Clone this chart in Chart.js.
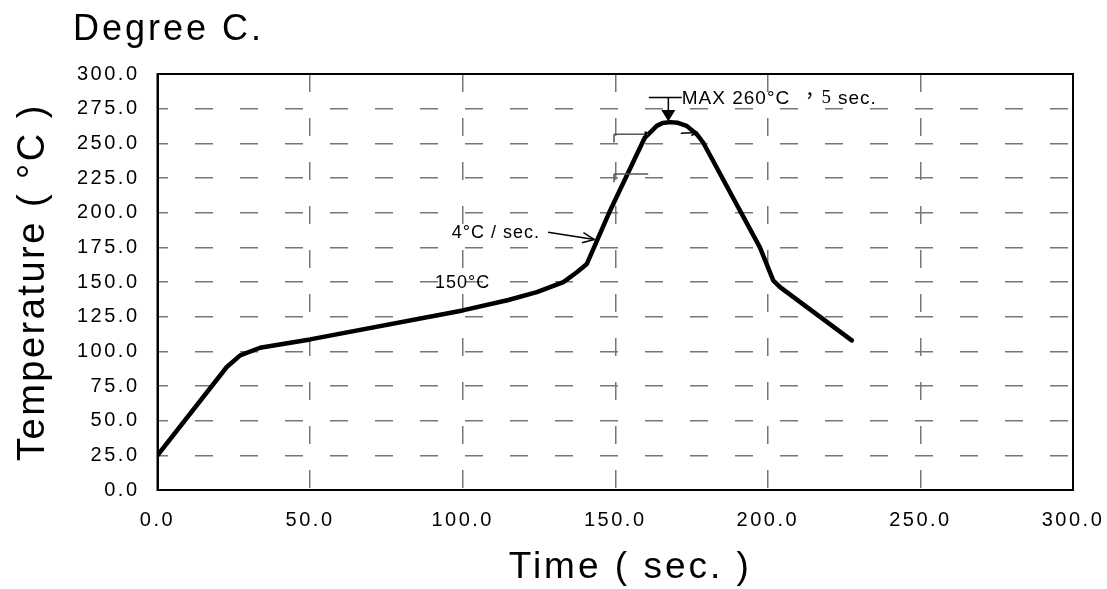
<!DOCTYPE html>
<html>
<head>
<meta charset="utf-8">
<script src="https://cdn.jsdelivr.net/npm/chart.js@4.4.1/dist/chart.umd.min.js"></script>
<style>
  body { margin: 0; background: #fff; }
  #wrap { width: 1107px; height: 589px; position: relative; }
</style>
</head>
<body>
<div id="wrap"><canvas id="grafico"></canvas></div>
<script>
// perfil de soldadura (tiempo en seg, temperatura en C)
const tiempo = [0, 22.7, 27.1, 33.6, 50, 100, 115, 124.3, 133, 137.4, 140.7, 148.3, 159.7, 161.4, 163.6, 165.5, 168, 170.5, 173.4, 176.7, 178.8, 197.4, 201.8, 204, 227.5]
const temperatura = [25, 88.7, 97.1, 102.6, 108.6, 129.5, 137, 142.7, 149.9, 157, 163, 201.4, 254.2, 257.8, 262.6, 264.6, 265.3, 264.8, 262.6, 256.6, 250.6, 175, 151, 146.3, 107.9]

const ticksX = [0, 50, 100, 150, 200, 250, 300]
const ticksY = [0, 25, 50, 75, 100, 125, 150, 175, 200, 225, 250, 275, 300]

const textos = {
  titulo: "Degree C.",
  ejeX: "Time ( sec. )",
  ejeY: "Temperature ( °C )",
  max: "MAX 260°C",
  coma: "，",
  cinco: "5",
  seg: "sec.",
  rampa: "4°C / sec.",
  meseta: "150°C"
}

const sans = "'Liberation Sans', Arial, sans-serif"

const linea = (ctx, x1, y1, x2, y2) => {
  ctx.beginPath()
  ctx.moveTo(x1, y1)
  ctx.lineTo(x2, y2)
  ctx.stroke()
}

const flechaAbierta = (ctx, x1, y1, x2, y2, largo) => {
  linea(ctx, x1, y1, x2, y2)
  const ang = Math.atan2(y2 - y1, x2 - x1)
  linea(ctx, x2, y2, x2 - largo * Math.cos(ang - 0.4), y2 - largo * Math.sin(ang - 0.4))
  linea(ctx, x2, y2, x2 - largo * Math.cos(ang + 0.4), y2 - largo * Math.sin(ang + 0.4))
}

const espaciado = {
  id: 'espaciado',
  beforeLayout(chart) { chart.ctx.letterSpacing = '2.5px' },
  beforeDraw(chart) { chart.ctx.letterSpacing = '2.5px' }
}

const notas = {
  id: 'notas',
  afterDatasetsDraw(chart) {
    const ctx = chart.ctx
    const x = chart.scales.x
    const y = chart.scales.y
    const px = (t) => x.getPixelForValue(t)
    const py = (v) => y.getPixelForValue(v)
    const area = chart.chartArea

    ctx.save()
    // marco
    ctx.strokeStyle = '#000'
    ctx.lineWidth = 2
    ctx.strokeRect(area.left, area.top, area.right - area.left, area.bottom - area.top)

    // titulos
    ctx.letterSpacing = '3px'
    ctx.fillStyle = '#000'
    ctx.font = "36px " + sans
    ctx.textBaseline = 'middle'
    ctx.textAlign = 'left'
    ctx.fillText(textos.titulo, 73, 30)

    ctx.font = "37px " + sans
    ctx.textAlign = 'center'
    ctx.fillText(textos.ejeX, (area.left + area.right) / 2 + 15, area.bottom + 78)
    ctx.textAlign = 'left'

    // MAX 260
    ctx.letterSpacing = '1px'
    ctx.font = "19px " + sans
    ctx.fillText(textos.max, px(171.8), py(282.5))
    ctx.font = "19px 'Noto Sans CJK TC', serif"
    ctx.fillText(textos.coma, px(210.6), py(284))
    ctx.font = "19px 'Liberation Serif', serif"
    ctx.fillText(textos.cinco, px(217.6), py(282.5))
    ctx.font = "19px " + sans
    ctx.fillText(textos.seg, px(223), py(282.5))

    ctx.lineWidth = 1.5
    linea(ctx, px(161), py(283), px(171.8), py(283))
    linea(ctx, px(167.4), py(283), px(167.4), py(272))
    ctx.beginPath()
    ctx.moveTo(px(167.4) - 7, py(274))
    ctx.lineTo(px(167.4) + 7, py(274))
    ctx.lineTo(px(167.4), py(265.8))
    ctx.closePath()
    ctx.fill()

    // marcas junto al pico
    ctx.strokeStyle = '#555'
    ctx.lineWidth = 1.5
    linea(ctx, px(149.6), py(256.6), px(160.8), py(256.6))
    linea(ctx, px(149.6), py(256.6), px(149.6), py(250.6))
    linea(ctx, px(149.6), py(227.8), px(160.8), py(227.8))
    linea(ctx, px(149.6), py(227.8), px(149.6), py(222))
    ctx.strokeStyle = '#000'
    ctx.lineWidth = 2.5
    linea(ctx, px(160), py(258.5), px(160), py(253))
    ctx.lineWidth = 1.5
    flechaAbierta(ctx, px(171.5), py(257.3), px(177), py(257.8), 7)

    // rampa
    ctx.font = "18px " + sans
    ctx.fillText(textos.rampa, px(96.4), py(185.6))
    flechaAbierta(ctx, px(128), py(185.8), px(143.2), py(180.6), 13)

    // 150
    ctx.fillText(textos.meseta, px(90.9), py(149.6))
    ctx.restore()
  }
}

const config = {
  type: 'line',
  data: {
    datasets: [{
      data: tiempo.map((t, i) => ({ x: t, y: temperatura[i] })),
      borderColor: '#000',
      borderWidth: 4.5,
      pointRadius: 0,
      tension: 0,
      borderJoinStyle: 'round',
      borderCapStyle: 'round'
    }]
  },
  options: {
    responsive: true,
    maintainAspectRatio: false,
    animation: false,
    layout: { padding: { top: 74, right: 34, left: 0, bottom: 0 } },
    plugins: { legend: { display: false }, tooltip: { enabled: false } },
    scales: {
      x: {
        type: 'linear',
        min: 0,
        max: 300,
        afterBuildTicks: (s) => { s.ticks = ticksX.map(v => ({ value: v })) },
        afterFit: (s) => { s.height = 99; s.paddingRight = 30; s.paddingLeft = 0 },
        ticks: {
          color: '#000',
          padding: 18,
          maxRotation: 0,
          font: { family: sans, size: 20 },
          callback: (v) => v.toFixed(1)
        },
        grid: { color: '#777', lineWidth: 1.5, drawTicks: false },
        border: { color: '#000', width: 2, dash: [18, 26], dashOffset: 0 }
      },
      y: {
        min: 0,
        max: 300,
        afterBuildTicks: (s) => { s.ticks = ticksY.map(v => ({ value: v })) },
        afterFit: (s) => { s.width = 157.5 },
        ticks: {
          color: '#000',
          padding: 18,
          font: { family: sans, size: 20 },
          callback: (v) => v.toFixed(1)
        },
        grid: { color: '#777', lineWidth: 1.5, drawTicks: false },
        border: { color: '#000', width: 2, dash: [18, 27], dashOffset: 9 },
        title: {
          display: true,
          text: textos.ejeY,
          color: '#000',
          font: { family: sans, size: 38 },
          padding: { top: 11, bottom: 0 }
        }
      }
    }
  },
  plugins: [espaciado, notas]
}

const miGrafico = new Chart(document.getElementById('grafico'), config)
</script>
</body>
</html>
